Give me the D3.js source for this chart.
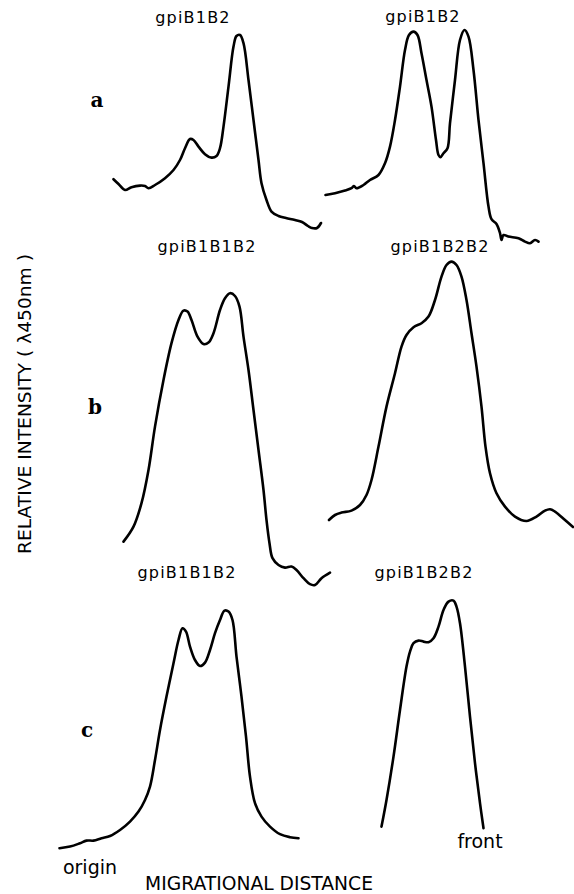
<!DOCTYPE html>
<html>
<head>
<meta charset="utf-8">
<script src="https://cdn.jsdelivr.net/npm/d3@7"></script>
<style>
  html, body { margin: 0; padding: 0; background: #fff; }
  svg { display: block; }
  .trace { fill: none; stroke: #000; stroke-width: 2.6; stroke-linejoin: round; stroke-linecap: round; }
  .lbl { font-family: "DejaVu Sans", sans-serif; font-size: 16px; fill: #000; }
  .row { font-family: "DejaVu Serif", serif; font-weight: bold; font-size: 20px; fill: #000; }
</style>
</head>
<body>
<svg id="chart"></svg>
<script>
// migrational distance (arbitrary mm) vs relative intensity
const rowLabels = ["a", "b", "c"];
const traceTitles = ["gpiB1B2", "gpiB1B2", "gpiB1B1B2", "gpiB1B2B2", "gpiB1B1B2", "gpiB1B2B2"];

const traceA1 = [[11.7,35.4],[12.7,33],[14,30],[15.3,31.4],[17,32.2],[18,32],[18.7,30.9],[20,32.5],[22,35.9],
  [23.7,40],[25,45],[26,50.9],[27,55.5],[27.7,55],[28.7,51.7],[30,47.9],[31.3,46.2],[32.3,47],[33,50.9],
  [33.7,61.7],[34.7,81.7],[35.7,101.7],[36.3,107],[37,107.5],[37.7,103.4],[38.7,85],[39.7,65],[40.7,45],
  [41.3,33.4],[42.3,25],[43.3,19.2],[44.7,17],[46.2,16],[48,15],[49.4,14],[50.6,12],[51.4,11],[52.4,11],[53.2,13.5]];

const traceA2 = [[54.1,27.5],[56,28.4],[58,29.7],[59.3,30.9],[59.8,32],[60.3,30.9],[61.7,32.5],[63,35],[64.7,37.5],
  [66,43.4],[67,51.7],[68,65],[69,81.7],[70,100],[70.8,107.5],[71.7,109.2],[72.5,107.5],[73.3,98.4],[74.3,85],
  [75.3,71.7],[76.2,55],[76.7,47.5],[77.1,46.4],[77.7,48.4],[78.5,50.9],[79,63.4],[80,85],[81,105],[81.9,110],
  [82.7,106.7],[83.7,90],[84.7,65],[85.7,43.4],[86.7,21.7],[87.3,15.4],[88.3,13],[89,8.4],[89.3,5],[89.7,7.5],
  [90.7,6.7],[92.7,5.9],[94,4.2],[95,3.4],[96,5],[96.7,4.2]];

const traceB1 = [[13.7,24.2],[15.7,31.7],[17.3,43.4],[18.7,60],[20,81.7],[21.7,105],[23.3,123.4],[24.7,135],
  [25.7,139.7],[26.5,139.2],[27.3,135],[28.5,126.7],[29.7,123],[30.7,123.7],[31.7,128.4],[33,140],[34,145.9],
  [35,148.4],[36,147],[36.9,141.7],[37.7,126.7],[38.7,110],[39.7,90],[40.7,70],[41.7,50],[42.3,35],[42.9,23.4],
  [43.5,15.9],[44.7,12.5],[46,11.2],[47.3,11.7],[48.3,10],[49.7,5.9],[51,2.9],[52,2.5],[53.3,5.9],[55,8.7]];

const traceB2 = [[54.8,35],[56,37.5],[57.3,38.7],[59.3,39.7],[61,42.5],[62.3,47.5],[63.3,55],[64.7,71.7],[66.3,91.7],
  [68,108.4],[69.3,121.7],[70.3,127.5],[71.7,131.4],[73.3,133.4],[74.7,136.7],[76,145],[77.3,156.7],[78.3,162.5],
  [79.3,164.2],[80.3,162.5],[81.3,156.7],[82.3,145],[83.3,128.4],[84.3,111.7],[85.3,91.7],[86.1,71.7],[87,58.4],
  [88.3,48.4],[90,41.7],[92,36.7],[94.3,34.5],[96.3,36.7],[98,39.7],[99,40.4],[100,39.2],[102,35],[103.6,31.5]];

const traceC1 = [[0.9,5.9],[3,6.7],[5,8.4],[6.3,9.7],[7.7,9.7],[9.3,10.9],[11,12],[13,15],[15,19.2],[16.7,24.2],
  [18,30],[19,36.7],[20,50],[21,65],[22.3,81.7],[23.7,98.4],[24.7,110],[25.5,115.9],[26.2,114.2],[27,106.7],
  [28,100],[29,97],[30,98.7],[31,105],[32,113.4],[33,120],[33.9,124.7],[34.7,124.2],[35.5,120],[36.3,101.7],
  [37.3,81.7],[38.2,61.7],[39,41.7],[40,28.4],[41.3,21.7],[43,16.7],[45,12.9],[47,11.4],[48.7,10.9]];

const traceC2 = [[65.3,16.7],[66.3,30],[67.7,51.7],[69,75],[70.3,96.7],[71,104.2],[71.7,108.4],[72.7,109.7],
  [73.7,109.2],[74.7,108.9],[75.7,110.9],[76.7,116.7],[77.7,125],[78.7,129.2],[79.7,129.7],[80.3,126.7],
  [81,118.4],[82,96.7],[83,71.7],[84,48.4],[85,28.4],[85.7,15.9]];

const W = 574, H = 894;
const svg = d3.select("#chart").attr("width", W).attr("height", H);

const x = d3.scaleLinear().domain([0, 104]).range([55, 575]);
const yRows = [
  d3.scaleLinear().domain([0, 110]).range([250, 30]),
  d3.scaleLinear().domain([0, 170]).range([590, 250]),
  d3.scaleLinear().domain([0, 135]).range([860, 590])
];

const traces = [
  {data: traceA1, row: 0}, {data: traceA2, row: 0},
  {data: traceB1, row: 1}, {data: traceB2, row: 1},
  {data: traceC1, row: 2}, {data: traceC2, row: 2}
];

traces.forEach(t => {
  const y = yRows[t.row];
  const line = d3.line()
    .x(d => x(d[0]))
    .y(d => y(d[1]))
    .curve(d3.curveCatmullRom.alpha(0.5));
  svg.append("path").attr("class", "trace").attr("d", line(t.data));
});

// trace titles: centre x, baseline y
const titlePos = [[193, 23], [423, 22], [207, 252], [440, 252], [187, 578], [424, 578]];
svg.selectAll("text.title")
  .data(traceTitles)
  .enter().append("text")
  .attr("class", "lbl title")
  .attr("x", (d, i) => titlePos[i][0])
  .attr("y", (d, i) => titlePos[i][1])
  .attr("text-anchor", "middle")
  .style("letter-spacing", "1.2px")
  .text(d => d);

const rowPos = [[97, 107], [95, 414], [87, 737]];
svg.selectAll("text.row")
  .data(rowLabels)
  .enter().append("text")
  .attr("class", "row")
  .attr("x", (d, i) => rowPos[i][0])
  .attr("y", (d, i) => rowPos[i][1])
  .attr("text-anchor", "middle")
  .text(d => d);

svg.append("text")
  .attr("class", "lbl")
  .attr("transform", "translate(31,404) rotate(-90)")
  .attr("text-anchor", "middle")
  .style("font-size", "18px")
  .attr("textLength", 300)
  .attr("lengthAdjust", "spacingAndGlyphs")
  .text("RELATIVE  INTENSITY ( λ450nm )");

svg.append("text")
  .attr("class", "lbl")
  .attr("x", 259).attr("y", 890)
  .attr("text-anchor", "middle")
  .style("font-size", "19px")
  .attr("textLength", 228)
  .attr("lengthAdjust", "spacingAndGlyphs")
  .text("MIGRATIONAL DISTANCE");

svg.append("text")
  .attr("class", "lbl")
  .attr("x", 90).attr("y", 874)
  .attr("text-anchor", "middle")
  .style("font-size", "19px")
  .text("origin");

svg.append("text")
  .attr("class", "lbl")
  .attr("x", 480).attr("y", 848)
  .attr("text-anchor", "middle")
  .style("font-size", "19px")
  .text("front");
</script>
</body>
</html>
